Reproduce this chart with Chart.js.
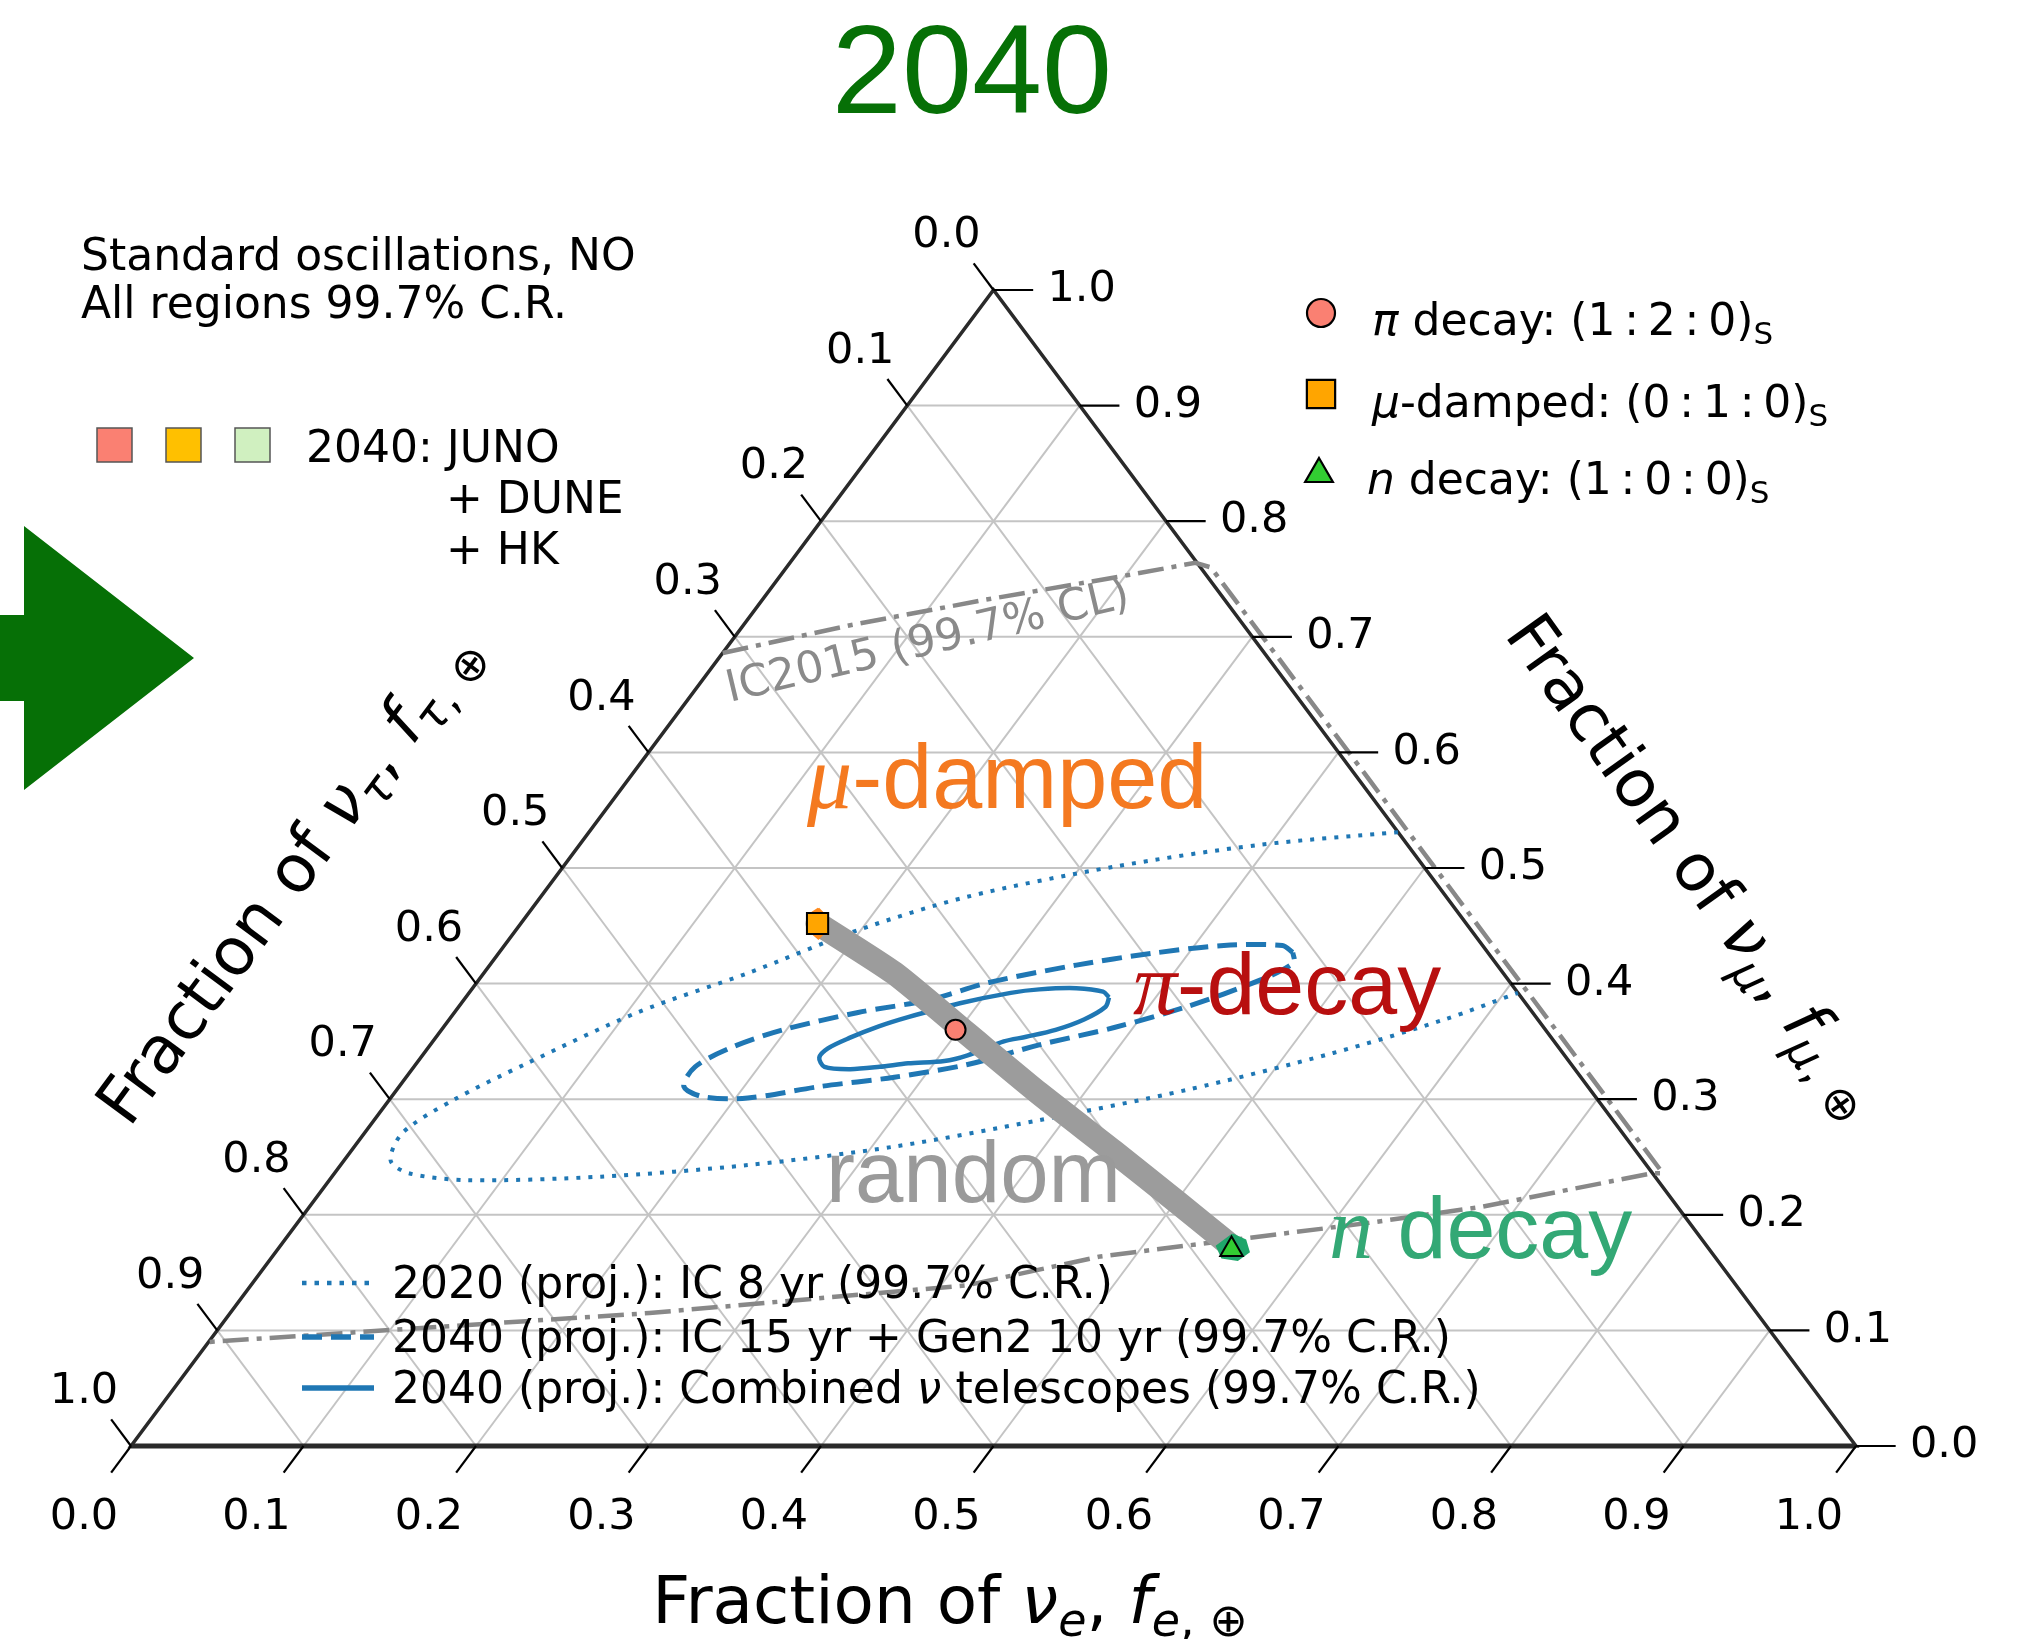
<!DOCTYPE html>
<html>
<head>
<meta charset="utf-8">
<script src="https://cdn.jsdelivr.net/npm/chart.js@4.4.1/dist/chart.umd.min.js"></script>
<style>
  html, body { margin: 0; padding: 0; background: #ffffff; }
  canvas { display: block; }
</style>
</head>
<body>
<canvas id="ternary" width="2023" height="1639"></canvas>
<script>
// Flavour compositions at Earth, stored as [f_e, f_mu] pairs (f_tau = 1 - f_e - f_mu).

const tickValues = [0.0, 0.1, 0.2, 0.3, 0.4, 0.5, 0.6, 0.7, 0.8, 0.9, 1.0];
const tickLabels = ['0.0', '0.1', '0.2', '0.3', '0.4', '0.5', '0.6', '0.7', '0.8', '0.9', '1.0'];
const gridValues = [0.1, 0.2, 0.3, 0.4, 0.5, 0.6, 0.7, 0.8, 0.9];

// 2020 (proj.): IC 8 yr, 99.7% C.R. (open where it meets the f_tau = 0 side)
const ic8yr2020 = [
  [0.469, 0.531], [0.394, 0.520], [0.319, 0.501], [0.247, 0.475], [0.198, 0.446],
  [0.153, 0.409], [0.106, 0.375], [0.064, 0.331], [0.037, 0.299], [0.022, 0.271],
  [0.027, 0.247], [0.043, 0.236], [0.080, 0.230], [0.156, 0.233], [0.236, 0.243],
  [0.313, 0.259], [0.386, 0.282], [0.458, 0.308], [0.527, 0.340], [0.577, 0.369],
  [0.608, 0.392]
];

// 2040 (proj.): IC 15 yr + Gen2 10 yr, 99.7% C.R.
const icGen2_2040 = [
  [0.460, 0.427], [0.451, 0.433], [0.417, 0.433], [0.378, 0.426], [0.340, 0.416],
  [0.297, 0.401], [0.270, 0.386], [0.234, 0.375], [0.198, 0.360], [0.176, 0.345],
  [0.163, 0.328], [0.165, 0.311], [0.181, 0.302], [0.207, 0.301], [0.244, 0.311],
  [0.283, 0.319], [0.320, 0.330], [0.353, 0.347], [0.389, 0.362], [0.422, 0.380],
  [0.453, 0.403], [0.465, 0.418], [0.460, 0.427]
];

// 2040 (proj.): combined neutrino telescopes, 99.7% C.R.
const combined2040 = [
  [0.373, 0.388], [0.367, 0.393], [0.350, 0.396], [0.329, 0.395], [0.314, 0.392],
  [0.289, 0.383], [0.265, 0.371], [0.252, 0.363], [0.240, 0.353], [0.232, 0.344],
  [0.231, 0.336], [0.238, 0.328], [0.254, 0.326], [0.270, 0.328], [0.285, 0.331],
  [0.305, 0.333], [0.316, 0.338], [0.331, 0.350], [0.342, 0.354], [0.356, 0.360],
  [0.368, 0.369], [0.375, 0.380], [0.373, 0.388]
];

// IceCube 2015 measurement, 99.7% CL boundary
const ic2015 = [
  [0.000, 0.686], [0.062, 0.710], [0.129, 0.732], [0.197, 0.752], [0.235, 0.764],
  [0.246, 0.760], [0.256, 0.750], [0.406, 0.600], [0.556, 0.450], [0.706, 0.300],
  [0.770, 0.236], [0.764, 0.236], [0.680, 0.207], [0.621, 0.193], [0.548, 0.178],
  [0.480, 0.164], [0.415, 0.139], [0.243, 0.115], [0.000, 0.090]
];

// Band of compositions reached from random source mixtures
const randomBand = [
  [0.172, 0.452], [0.238, 0.409], [0.306, 0.357], [0.374, 0.305],
  [0.442, 0.255], [0.501, 0.211], [0.550, 0.174]
];

// 2040 JUNO + DUNE + HK regions around the benchmark sources
const junoMuDamped = [
  [0.166, 0.465], [0.173, 0.459], [0.180, 0.446], [0.179, 0.439],
  [0.170, 0.446], [0.163, 0.459], [0.166, 0.465]
];
const junoNDecay = [
  [0.547, 0.183], [0.557, 0.178], [0.564, 0.168], [0.561, 0.161],
  [0.551, 0.163], [0.543, 0.173], [0.547, 0.183]
];

// Benchmark source compositions seen at Earth
const piDecay = [[0.298, 0.360]];
const muDamped = [[0.172, 0.452]];
const nDecay = [[0.553, 0.170]];

const TICK = 0.023;
const BLUE = '#1f77b4';
const GREEN = '#067006';
const THIN = '\u2009';

const toXY = pts => pts.map(([fe, fmu]) => ({ x: fe + fmu / 2, y: fmu }));

function seg(ctx, a, b) {
  ctx.beginPath();
  ctx.moveTo(a[0], a[1]);
  ctx.lineTo(b[0], b[1]);
  ctx.stroke();
}

function runFont(r, size) {
  const px = Math.round(size * (r.s || 1));
  return (r.i ? 'italic ' : '') + px + 'px ' + (r.f || '"DejaVu Sans"');
}

// Draws a sequence of styled text runs (italic symbols, subscripts) on one baseline.
function drawRich(ctx, runs, x, y, size, align) {
  ctx.textBaseline = 'alphabetic';
  ctx.textAlign = 'left';
  let w = 0;
  runs.forEach(r => { ctx.font = runFont(r, size); w += ctx.measureText(r.t).width; });
  let cx = align === 'center' ? x - w / 2 : x;
  runs.forEach(r => {
    ctx.font = runFont(r, size);
    ctx.fillText(r.t, cx, y + (r.dy || 0) * size);
    cx += ctx.measureText(r.t).width;
  });
}

function pixFn(chart) {
  const sx = chart.scales.x, sy = chart.scales.y;
  return (fe, fmu) => [sx.getPixelForValue(fe + fmu / 2), sy.getPixelForValue(fmu)];
}

function axisTitle(flavour) {
  return [
    { t: 'Fraction of ' },
    { t: 'ν', i: 1 },
    { t: flavour, i: 1, s: 0.7, dy: 0.2 },
    { t: ', ' },
    { t: 'f', i: 1 },
    { t: flavour, i: 1, s: 0.7, dy: 0.2 },
    { t: ', ', s: 0.7, dy: 0.2 },
    { t: '⊕', s: 0.7, dy: 0.2 }
  ];
}

function ratio(a, b, c) {
  return ' decay: (' + a + THIN + ':' + THIN + b + THIN + ':' + THIN + c + ')';
}

function marker(ctx, style, radius, fill, x, y) {
  ctx.save();
  ctx.fillStyle = fill;
  ctx.strokeStyle = '#000';
  ctx.lineWidth = 2.2;
  Chart.helpers.drawPoint(ctx, { pointStyle: style, radius: radius, borderWidth: 2.2, rotation: 0 }, x, y);
  ctx.restore();
}

const ternaryFrame = {
  id: 'ternaryFrame',
  beforeDatasetsDraw(chart) {
    const ctx = chart.ctx;
    const P = pixFn(chart);
    ctx.save();
    // Grid lines of constant f_e, f_mu and f_tau
    ctx.strokeStyle = '#c4c4c4';
    ctx.lineWidth = 2;
    gridValues.forEach(v => {
      seg(ctx, P(v, 0), P(v, 1 - v));
      seg(ctx, P(0, v), P(1 - v, v));
      seg(ctx, P(1 - v, 0), P(0, 1 - v));
    });
    // Triangle frame
    const a = P(0, 0), b = P(1, 0), c = P(0, 1);
    ctx.strokeStyle = '#2a2a2a';
    ctx.lineWidth = 3.5;
    ctx.lineJoin = 'miter';
    ctx.beginPath();
    ctx.moveTo(a[0], a[1]);
    ctx.lineTo(b[0], b[1]);
    ctx.lineTo(c[0], c[1]);
    ctx.closePath();
    ctx.stroke();
    ctx.lineWidth = 5;
    seg(ctx, a, b);
    ctx.restore();
  },
  afterDatasetsDraw(chart) {
    const ctx = chart.ctx;
    const P = pixFn(chart);
    ctx.save();

    // Ticks and tick labels on the three sides
    ctx.strokeStyle = '#000';
    ctx.lineWidth = 2.2;
    ctx.fillStyle = '#000';
    ctx.font = '43px "DejaVu Sans"';
    tickValues.forEach((v, i) => {
      const b = P(v, 0), b2 = P(v, -TICK);                 // f_e (bottom)
      const r = P(1 - v, v), r2 = P(1 - v + TICK, v);      // f_mu (right)
      const l = P(0, 1 - v), l2 = P(-TICK, 1 - v + TICK);  // f_tau (left)
      seg(ctx, b, b2); seg(ctx, r, r2); seg(ctx, l, l2);
      ctx.textBaseline = 'middle';
      ctx.textAlign = 'center';
      ctx.fillText(tickLabels[i], b[0] - 47, b[1] + 72);
      ctx.fillText(tickLabels[i], l[0] - 47, l[1] - 54);
      ctx.textAlign = 'left';
      ctx.fillText(tickLabels[i], r[0] + 54, r[1]);
    });

    // Axis titles
    ctx.fillStyle = '#000';
    drawRich(ctx, axisTitle('e'), 950, 1623, 66, 'center');
    ctx.save();
    ctx.translate(306, 890);
    ctx.rotate(-53.5 * Math.PI / 180);
    drawRich(ctx, axisTitle('τ'), 0, 0, 66, 'center');
    ctx.restore();
    ctx.save();
    ctx.translate(1677, 878);
    ctx.rotate(54.5 * Math.PI / 180);
    drawRich(ctx, axisTitle('μ'), 0, 0, 66, 'center');
    ctx.restore();

    // Region names
    ctx.fillStyle = '#f47920';
    drawRich(ctx, [{ t: 'μ', i: 1, f: '"Liberation Serif"' }, { t: '-damped', f: '"Liberation Sans"' }], 807, 808, 90, 'left');
    ctx.fillStyle = '#b80f0f';
    drawRich(ctx, [{ t: 'π', i: 1, f: '"Liberation Serif"' }, { t: '-decay', f: '"Liberation Sans"' }], 1133, 1014, 88, 'left');
    ctx.fillStyle = '#9a9a9a';
    drawRich(ctx, [{ t: 'random', f: '"Liberation Sans"' }], 826, 1202, 87, 'left');
    ctx.fillStyle = '#33a875';
    drawRich(ctx, [{ t: 'n', i: 1, f: '"Liberation Serif"' }, { t: ' decay', f: '"Liberation Sans"' }], 1329, 1258, 88, 'left');

    // IC2015 label along its boundary
    ctx.save();
    ctx.translate(928, 643);
    ctx.rotate(-13.4 * Math.PI / 180);
    ctx.fillStyle = '#8a8a8a';
    ctx.font = '44px "DejaVu Sans"';
    ctx.textAlign = 'center';
    ctx.textBaseline = 'middle';
    ctx.fillText('IC2015 (99.7% CL)', 0, 0);
    ctx.restore();

    ctx.restore();
  },
  afterDraw(chart) {
    const ctx = chart.ctx;
    ctx.save();

    // Year title and arrow
    ctx.fillStyle = GREEN;
    ctx.font = '126px "Liberation Sans"';
    ctx.textAlign = 'center';
    ctx.textBaseline = 'alphabetic';
    ctx.fillText('2040', 972, 113);
    ctx.beginPath();
    ctx.moveTo(0, 615); ctx.lineTo(24, 615); ctx.lineTo(24, 526); ctx.lineTo(194, 658);
    ctx.lineTo(24, 790); ctx.lineTo(24, 701); ctx.lineTo(0, 701);
    ctx.closePath();
    ctx.fill();

    // Top-left notes
    ctx.fillStyle = '#000';
    ctx.font = '44px "DejaVu Sans"';
    ctx.textAlign = 'left';
    ctx.fillText('Standard oscillations, NO', 81, 270);
    ctx.fillText('All regions 99.7% C.R.', 81, 318);
    [['#fa8072', 97], ['#ffc000', 166], ['#d0f0c0', 235]].forEach(([col, x0]) => {
      ctx.fillStyle = col;
      ctx.fillRect(x0, 428, 35, 34);
      ctx.strokeStyle = '#555';
      ctx.lineWidth = 1.5;
      ctx.strokeRect(x0, 428, 35, 34);
    });
    ctx.fillStyle = '#000';
    ctx.fillText('2040: JUNO', 306, 462);
    ctx.fillText('+ DUNE', 446, 513);
    ctx.fillText('+ HK', 446, 564);

    // Source legend (top right)
    marker(ctx, 'circle', 14, '#fa8072', 1321, 313);
    marker(ctx, 'rect', 20, '#ffa500', 1321, 394);
    marker(ctx, 'triangle', 16, '#32cd32', 1319, 474);
    ctx.fillStyle = '#000';
    drawRich(ctx, [{ t: 'π', i: 1 }, { t: ratio(1, 2, 0) }, { t: 'S', s: 0.7, dy: 0.2 }], 1372, 335, 44, 'left');
    drawRich(ctx, [{ t: 'μ', i: 1 }, { t: '-damped: (0' + THIN + ':' + THIN + '1' + THIN + ':' + THIN + '0)' }, { t: 'S', s: 0.7, dy: 0.2 }], 1372, 417, 44, 'left');
    drawRich(ctx, [{ t: 'n', i: 1 }, { t: ratio(1, 0, 0) }, { t: 'S', s: 0.7, dy: 0.2 }], 1367, 494, 44, 'left');

    // Contour legend (bottom)
    const rows = [
      { dash: [4.5, 8], w: 4.5, y: 1283, label: [{ t: '2020 (proj.): IC 8 yr (99.7% C.R.)' }] },
      { dash: [20, 9], w: 5.5, y: 1337, label: [{ t: '2040 (proj.): IC 15 yr + Gen2 10 yr (99.7% C.R.)' }] },
      { dash: [], w: 5.5, y: 1388, label: [{ t: '2040 (proj.): Combined ' }, { t: 'ν', i: 1 }, { t: ' telescopes (99.7% C.R.)' }] }
    ];
    rows.forEach(r => {
      ctx.strokeStyle = BLUE;
      ctx.lineWidth = r.w;
      ctx.setLineDash(r.dash);
      ctx.lineCap = 'butt';
      seg(ctx, [302, r.y], [374, r.y]);
      ctx.setLineDash([]);
      ctx.fillStyle = '#000';
      drawRich(ctx, r.label, 392, r.y + 15, 44, 'left');
    });

    ctx.restore();
  }
};

Chart.defaults.font.family = '"DejaVu Sans"';

new Chart(document.getElementById('ternary').getContext('2d'), {
  type: 'scatter',
  data: {
    datasets: [
      { label: 'π decay', data: toXY(piDecay), pointStyle: 'circle', pointRadius: 10,
        backgroundColor: '#fa8072', borderColor: '#000', borderWidth: 2, order: 1 },
      { label: 'μ-damped', data: toXY(muDamped), pointStyle: 'rect', pointRadius: 15,
        backgroundColor: '#ffa500', borderColor: '#000', borderWidth: 2, order: 1 },
      { label: 'n decay', data: toXY(nDecay), pointStyle: 'triangle', pointRadius: 13,
        backgroundColor: '#32cd32', borderColor: '#000', borderWidth: 2, order: 1 },
      { label: 'JUNO+DUNE+HK μ-damped', data: toXY(junoMuDamped), showLine: true, fill: 'shape',
        backgroundColor: '#ff8a1c', borderColor: '#ff8a1c', borderWidth: 2, pointRadius: 0, order: 3 },
      { label: 'JUNO+DUNE+HK n decay', data: toXY(junoNDecay), showLine: true, fill: 'shape',
        backgroundColor: '#1fa66a', borderColor: '#1fa66a', borderWidth: 2, pointRadius: 0, order: 3 },
      { label: 'random', data: toXY(randomBand), showLine: true, borderColor: '#9c9c9c',
        borderWidth: 24, borderCapStyle: 'round', borderJoinStyle: 'round', tension: 0.2,
        pointRadius: 0, order: 4 },
      { label: 'combined 2040', data: toXY(combined2040), showLine: true, borderColor: BLUE,
        borderWidth: 4.5, tension: 0.3, pointRadius: 0, order: 5 },
      { label: 'IC + Gen2 2040', data: toXY(icGen2_2040), showLine: true, borderColor: BLUE,
        borderWidth: 5, borderDash: [20, 9], tension: 0.3, pointRadius: 0, order: 6 },
      { label: 'IC 8 yr 2020', data: toXY(ic8yr2020), showLine: true, borderColor: BLUE,
        borderWidth: 4, borderDash: [4, 8], tension: 0.3, pointRadius: 0, order: 7 },
      { label: 'IC2015', data: toXY(ic2015), showLine: true, borderColor: '#888888',
        borderWidth: 4.5, borderDash: [26, 8, 5, 8], tension: 0, pointRadius: 0, order: 9 }
    ]
  },
  options: {
    responsive: false,
    animation: false,
    devicePixelRatio: 1,
    events: [],
    clip: false,
    layout: { padding: { left: 131, right: 167, top: 290, bottom: 193 } },
    scales: {
      x: { type: 'linear', min: 0, max: 1, display: false },
      y: { type: 'linear', min: 0, max: 1, display: false }
    },
    plugins: {
      legend: { display: false },
      tooltip: { enabled: false }
    }
  },
  plugins: [ternaryFrame]
});
</script>
</body>
</html>
